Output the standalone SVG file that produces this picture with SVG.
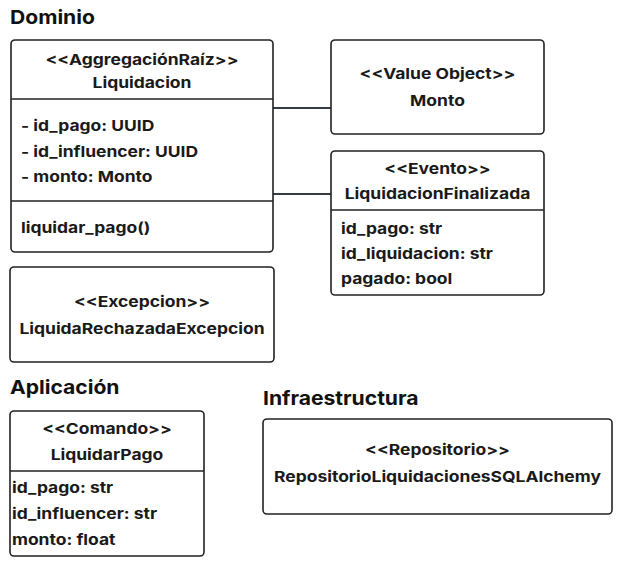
<svg xmlns="http://www.w3.org/2000/svg" width="620" height="567" viewBox="0 0 620 567">
<style>
.box{fill:#fff;stroke:#222;stroke-width:1.6}
.div{stroke:#222;stroke-width:1.6}
.t{font-family:Inter,"Liberation Sans",sans-serif;font-weight:700;font-size:15px;fill:#1a1a1a;transform:scaleX(1.165);transform-box:fill-box;transform-origin:left center}
.c{text-anchor:middle;transform-origin:center center}
.h{font-family:Inter,"Liberation Sans",sans-serif;font-weight:700;font-size:19px;fill:#111;transform:scaleX(1.11);transform-box:fill-box;transform-origin:left center}
.con{stroke:#333b44;stroke-width:2;fill:none}
</style>
<rect width="620" height="567" fill="#fff"/>
<text class="h" x="10" y="24">Dominio</text>
<text class="h" x="10" y="394">Aplicación</text>
<text class="h" x="263" y="405">Infraestructura</text>
<g id="connectors">
<line class="con" x1="273" y1="108" x2="331" y2="108"/>
<line class="con" x1="273" y1="194" x2="331" y2="194"/>
</g>
<g id="liquidacion">
<rect class="box" x="11" y="40" width="262" height="212" rx="4"/>
<line class="div" x1="11" y1="99" x2="273" y2="99"/>
<line class="div" x1="11" y1="201" x2="273" y2="201"/>
<text class="t c" x="142" y="65">&lt;&lt;AggregaciónRaíz&gt;&gt;</text>
<text class="t c" x="142" y="88">Liquidacion</text>
<text class="t" x="21" y="131">- id_pago: UUID</text>
<text class="t" x="21" y="157">- id_influencer: UUID</text>
<text class="t" x="21" y="182">- monto: Monto</text>
<text class="t" x="21" y="233">liquidar_pago()</text>
</g>
<g id="monto">
<rect class="box" x="331" y="40" width="213" height="94" rx="4"/>
<text class="t c" x="437.5" y="79">&lt;&lt;Value Object&gt;&gt;</text>
<text class="t c" x="437.5" y="106">Monto</text>
</g>
<g id="evento">
<rect class="box" x="331" y="151" width="213" height="144" rx="4"/>
<line class="div" x1="331" y1="210" x2="544" y2="210"/>
<text class="t c" x="437.5" y="174">&lt;&lt;Evento&gt;&gt;</text>
<text class="t c" x="437.5" y="199">LiquidacionFinalizada</text>
<text class="t" x="341" y="234">id_pago: str</text>
<text class="t" x="341" y="259">id_liquidacion: str</text>
<text class="t" x="341" y="284">pagado: bool</text>
</g>
<g id="excepcion">
<rect class="box" x="10" y="267" width="264" height="95" rx="4"/>
<text class="t c" x="142" y="307">&lt;&lt;Excepcion&gt;&gt;</text>
<text class="t c" x="142" y="334">LiquidaRechazadaExcepcion</text>
</g>
<g id="comando">
<rect class="box" x="10" y="411" width="194" height="145" rx="4"/>
<line class="div" x1="10" y1="471" x2="204" y2="471"/>
<text class="t c" x="107" y="434">&lt;&lt;Comando&gt;&gt;</text>
<text class="t c" x="107" y="460">LiquidarPago</text>
<text class="t" x="12" y="493">id_pago: str</text>
<text class="t" x="12" y="519">id_influencer: str</text>
<text class="t" x="12" y="545">monto: float</text>
</g>
<g id="repositorio">
<rect class="box" x="263" y="419" width="349" height="95" rx="4"/>
<text class="t c" x="437.5" y="455">&lt;&lt;Repositorio&gt;&gt;</text>
<text class="t c" x="437.5" y="482">RepositorioLiquidacionesSQLAlchemy</text>
</g>
</svg>
